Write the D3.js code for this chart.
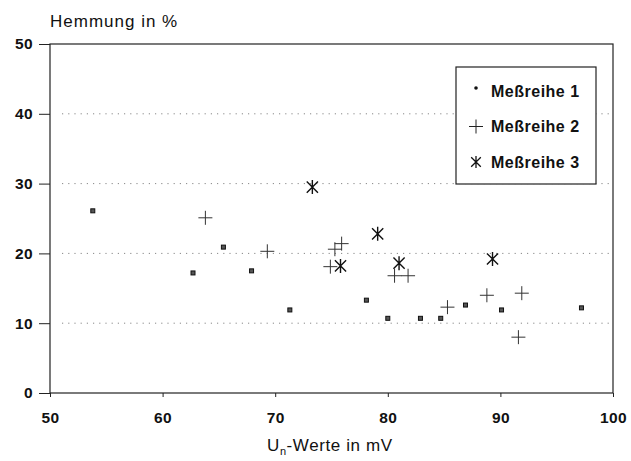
<!doctype html>
<html lang="de">
<head>
  <meta charset="utf-8">
  <title>Hemmung</title>
  <style>
    body { margin: 0; background: #fff; }
    svg { font-family: "Liberation Sans", Arial, sans-serif; }
    .grid line { stroke: #888; stroke-dasharray: 1.2 5; }
    .axis path, .axis line { stroke: #222; }
    .axis text { font-size: 15.5px; font-weight: bold; fill: #111; letter-spacing: 0.4px; }
  </style>
</head>
<body>
  <div id="chart"></div>
  <script src="https://cdn.jsdelivr.net/npm/d3@7/dist/d3.min.js"></script>
  <script>
  (function(){

    var series1X = [53.8, 62.7, 65.4, 67.9, 71.3, 78.1, 80.0, 82.9, 84.7, 86.9, 90.1, 97.2];
    var series1Y = [26.1, 17.2, 20.9, 17.5, 11.9, 13.3, 10.7, 10.7, 10.7, 12.6, 11.9, 12.2];

    var series2X = [63.8, 69.3, 75.9, 75.3, 74.9, 80.6, 81.8, 85.3, 88.8, 91.9, 91.6];
    var series2Y = [25.1, 20.3, 21.4, 20.6, 18.1, 16.8, 16.8, 12.3, 14.0, 14.3, 8.0];

    var series3X = [73.3, 75.8, 79.1, 81.0, 89.3];
    var series3Y = [29.5, 18.2, 22.8, 18.6, 19.2];

    var xTicks = [50, 60, 70, 80, 90, 100];
    var yTicks = [0, 10, 20, 30, 40, 50];
    var gridValues = [10, 20, 30, 40];
    var legendLabels = ["Meßreihe 1", "Meßreihe 2", "Meßreihe 3"];

    var width = 631, height = 461;
    var left = 50, right = 613, top = 44, bottom = 393;

    var x = d3.scaleLinear().domain([50, 100]).range([left, right]);
    var y = d3.scaleLinear().domain([0, 50]).range([bottom, top]);

    var svg = d3.select("#chart").append("svg")
        .attr("width", width)
        .attr("height", height);

    // dotted grid
    svg.append("g").attr("class", "grid")
      .selectAll("line").data(gridValues).enter()
      .append("line")
        .attr("x1", left + 12).attr("x2", right - 4)
        .attr("y1", function(d){ return y(d); })
        .attr("y2", function(d){ return y(d); });

    // frame
    svg.append("rect")
      .attr("x", left).attr("y", top)
      .attr("width", right - left).attr("height", bottom - top)
      .attr("fill", "none").attr("stroke", "#222").attr("stroke-width", 1.2);

    svg.append("g").attr("class", "axis")
      .attr("transform", "translate(" + left + ",0)")
      .call(d3.axisLeft(y).tickValues(yTicks).tickSize(11).tickPadding(6).tickFormat(d3.format("d")))
      .call(function(g){ g.select(".domain").remove(); });

    svg.append("g").attr("class", "axis")
      .attr("transform", "translate(0," + bottom + ")")
      .call(d3.axisBottom(x).tickValues(xTicks).tickSize(4).tickPadding(15).tickFormat(d3.format("d")))
      .call(function(g){ g.select(".domain").remove(); });

    // titles
    svg.append("text")
      .attr("x", 50).attr("y", 27)
      .attr("font-size", 17).attr("letter-spacing", 1).attr("fill", "#111")
      .text("Hemmung in %");

    var xl = svg.append("text")
      .attr("x", 267).attr("y", 451)
      .attr("font-size", 17).attr("letter-spacing", 0.6).attr("fill", "#111");
    xl.append("tspan").text("U");
    xl.append("tspan").attr("font-size", 11).attr("dy", 3.5).text("n");
    xl.append("tspan").attr("dy", -3.5).text("-Werte in mV");

    // marker shapes
    var plus = function(s){ return "M" + (-s) + ",0H" + s + "M0," + (-s) + "V" + s; };
    var star = function(s){
      var d = s * 0.8;
      return "M0," + (-s) + "V" + s + "M" + (-d) + "," + (-d) + "L" + d + "," + d + "M" + (-d) + "," + d + "L" + d + "," + (-d);
    };

    svg.append("g").selectAll("rect").data(series1X).enter()
      .append("rect")
        .attr("x", function(d){ return x(d) - 2; })
        .attr("y", function(d, i){ return y(series1Y[i]) - 2; })
        .attr("width", 4).attr("height", 4)
        .attr("fill", "#555").attr("stroke", "#111").attr("stroke-width", 1);

    svg.append("g").selectAll("path").data(series2X).enter()
      .append("path")
        .attr("transform", function(d, i){ return "translate(" + x(d) + "," + y(series2Y[i]) + ")"; })
        .attr("d", plus(7))
        .attr("stroke", "#333").attr("stroke-width", 1).attr("fill", "none");

    svg.append("g").selectAll("path").data(series3X).enter()
      .append("path")
        .attr("transform", function(d, i){ return "translate(" + x(d) + "," + y(series3Y[i]) + ")"; })
        .attr("d", star(7))
        .attr("stroke", "#111").attr("stroke-width", 1.4).attr("fill", "none");

    // legend
    var lg = svg.append("g").attr("transform", "translate(456,67)");
    lg.append("rect").attr("width", 140).attr("height", 117)
      .attr("fill", "#fff").attr("stroke", "#222").attr("stroke-width", 1.2);

    var items = lg.selectAll("g.item").data(legendLabels).enter()
      .append("g").attr("class", "item")
      .attr("transform", function(d, i){ return "translate(20," + (24 + i * 35.5) + ")"; });

    items.append("text")
      .attr("x", 15).attr("dy", "0.35em")
      .attr("font-size", 16).attr("letter-spacing", 0.5).attr("font-weight", "bold").attr("fill", "#111")
      .text(function(d){ return d; });

    items.filter(function(d, i){ return i === 0; }).append("circle")
      .attr("cy", -3).attr("r", 1.8).attr("fill", "#111");
    items.filter(function(d, i){ return i === 1; }).append("path")
      .attr("d", plus(7)).attr("stroke", "#222").attr("fill", "none");
    items.filter(function(d, i){ return i === 2; }).append("path")
      .attr("d", star(6)).attr("stroke", "#111").attr("stroke-width", 1.3).attr("fill", "none");

  })();
  </script>
</body>
</html>
